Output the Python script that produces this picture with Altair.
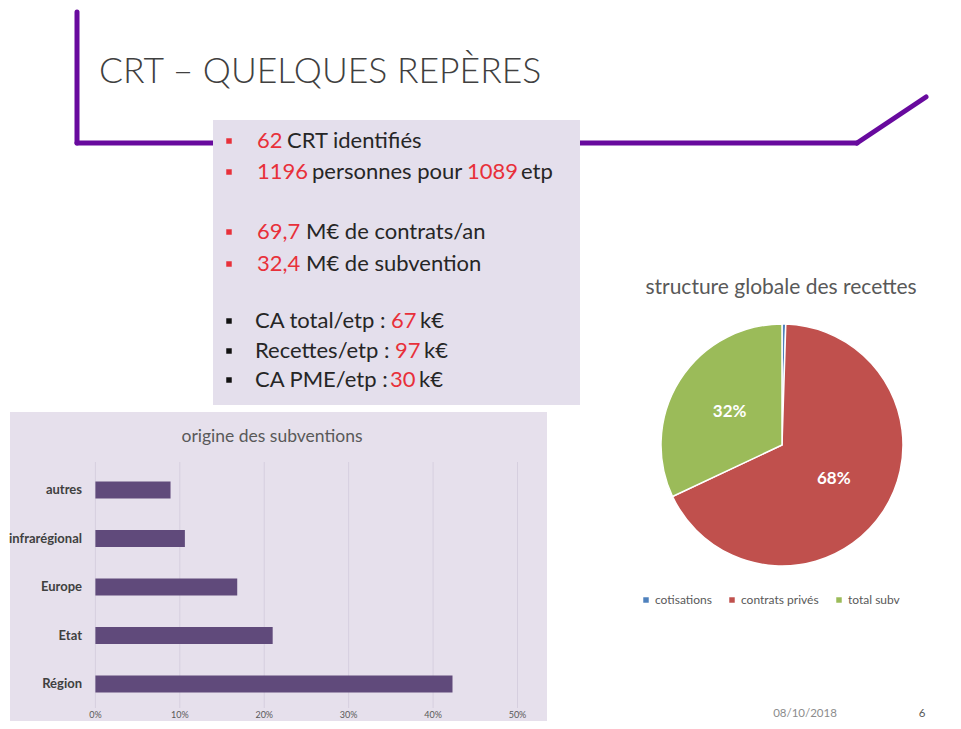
import altair as alt
import pandas as pd

# ---------------- data ----------------
bar_categories = ["autres", "infrarégional", "Europe", "Etat", "Région"]
bar_values = [0.089, 0.106, 0.168, 0.210, 0.423]
bar_ticks = [0.0, 0.1, 0.2, 0.3, 0.4, 0.5]

pie_categories = ["cotisations", "contrats privés", "total subv"]
pie_values = [0.5, 67.5, 32.0]
pie_colors = ["#4F81BD", "#C0504D", "#9BBB59"]

title_text = "CRT – QUELQUES REPÈRES"
bar_title = "origine des subventions"
pie_title = "structure globale des recettes"
date_text = "08/10/2018"
page_number = "6"

# key figures: each line is a list of (text, highlighted)
fact_lines = [
    [("62", True), ("CRT identifiés", False)],
    [("1196", True), ("personnes pour", False), ("1089", True), ("etp", False)],
    [("69,7", True), ("M€ de contrats/an", False)],
    [("32,4", True), ("M€ de subvention", False)],
    [("CA total/etp :", False), ("67", True), ("k€", False)],
    [("Recettes/etp :", False), ("97", True), ("k€", False)],
    [("CA PME/etp :", False), ("30", True), ("k€", False)],
]
fact_bullet_red = [True, True, True, True, False, False, False]

# ---------------- layout (pixels in the page) ----------------
FONT = "Lato"
RED = "#E8303A"
DARK = "#262626"
GREY = "#595959"
PURPLE = "#680A9E"


def px(v):
    return v - 8


line_y = [141, 172, 232, 264, 321, 351, 380]
seg_x = [[257, 287], [257, 312, 467, 521], [257, 306], [257, 306],
         [255, 391, 420], [255, 395, 424], [255, 390, 419]]

one = pd.DataFrame({"k": [0]})


def rule(x1, y1, x2, y2, color, w):
    return alt.Chart(one).mark_rule(color=color, strokeWidth=w, strokeCap="round").encode(
        x=alt.value(px(x1)), y=alt.value(px(y1)), x2=alt.value(px(x2)), y2=alt.value(px(y2)))


def rect(x1, y1, x2, y2, color):
    return alt.Chart(one).mark_rect(color=color).encode(
        x=alt.value(px(x1)), y=alt.value(px(y1)), x2=alt.value(px(x2)), y2=alt.value(px(y2)))


def text(s, x, y, size, color, align="left", weight="normal"):
    return alt.Chart(one).mark_text(text=s, align=align, baseline="middle", font=FONT,
                                    fontSize=size, color=color, fontWeight=weight).encode(
        x=alt.value(px(x)), y=alt.value(px(y)))


layers = []
# purple frame
layers.append(rule(77, 12, 77, 143, PURPLE, 5))
layers.append(rule(77, 143, 857, 143, PURPLE, 5))
layers.append(rule(857, 143, 926, 97, PURPLE, 5))
# title
layers.append(text(title_text, 99, 72, 35.5, "#404040", weight=300))

# key figures box
layers.append(rect(213, 120, 580, 405, "#E4DFEC"))
for i, segs in enumerate(fact_lines):
    layers.append(alt.Chart(one).mark_square(size=30, color=RED if fact_bullet_red[i] else "#111111", opacity=1).encode(
        x=alt.value(px(229)), y=alt.value(px(line_y[i]))))
    for (s, hl), x in zip(segs, seg_x[i]):
        layers.append(text(s, x, line_y[i], 22, RED if hl else DARK))

# bar chart panel
layers.append(rect(10, 412, 547, 740, "#E6E0EC"))
layers.append(text(bar_title, 272, 437, 17.5, GREY, align="center"))

bar_df = pd.DataFrame({"cat": bar_categories, "val": bar_values})
tick_df = pd.DataFrame({"tick": bar_ticks})
xscale = alt.Scale(domain=[0, 0.5], range=[px(95.4), px(517.5)], nice=False, zero=True)
yscale = alt.Scale(domain=bar_categories, range=[px(465.75), px(708.25)],
                   paddingInner=0.65, paddingOuter=0.325)

layers.append(alt.Chart(tick_df).mark_rule(color="#D6CFDF", strokeWidth=1).encode(
    x=alt.X("tick:Q", scale=xscale, axis=None), y=alt.value(px(462)), y2=alt.value(px(708))))
layers.append(alt.Chart(bar_df).mark_bar(color="#604A7B").encode(
    x=alt.X("val:Q", scale=xscale, axis=None), y=alt.Y("cat:N", scale=yscale, axis=None)))
layers.append(alt.Chart(bar_df).mark_text(align="right", baseline="middle", font=FONT, fontSize=13,
                                          fontWeight="bold", color="#404040").encode(
    y=alt.Y("cat:N", scale=yscale, axis=None), x=alt.value(px(82)), text="cat:N"))
layers.append(alt.Chart(tick_df).mark_text(align="center", baseline="middle", font=FONT, fontSize=9,
                                           color=GREY).encode(
    x=alt.X("tick:Q", scale=xscale, axis=None), y=alt.value(px(715)),
    text=alt.Text("tick:Q", format=".0%")))

# pie chart
total = sum(pie_values)
pie_df = pd.DataFrame({
    "cat": pie_categories,
    "share": pie_values,
    "idx": list(range(len(pie_categories))),
    "label": [f"{round(v / total * 100)}%" if v / total >= 0.05 else "" for v in pie_values],
})
layers.append(text(pie_title, 781, 288, 21, GREY, align="center"))
layers.append(alt.Chart(pie_df).mark_arc(stroke="white", strokeWidth=1.5).encode(
    theta=alt.Theta("share:Q", stack=True),
    order=alt.Order("idx:Q"),
    color=alt.Color("cat:N", scale=alt.Scale(domain=pie_categories, range=pie_colors),
                    legend=alt.Legend(orient="none", legendX=px(640), legendY=px(594),
                                      direction="horizontal", title=None, symbolType="square",
                                      symbolSize=30, symbolStrokeWidth=0, labelFont=FONT,
                                      labelFontSize=12, labelColor=GREY, columnPadding=14,
                                      labelOffset=3)),
    x=alt.value(px(782)), y=alt.value(px(445)), radius=alt.value(121)))
layers.append(alt.Chart(pie_df).mark_text(font=FONT, fontSize=17, fontWeight="bold", color="white").encode(
    theta=alt.Theta("share:Q", stack=True),
    order=alt.Order("idx:Q"),
    text="label:N",
    x=alt.value(px(782)), y=alt.value(px(445)), radius=alt.value(62)))

# footer
layers.append(text(date_text, 805, 714, 11.5, "#8C8C8C", align="center"))
layers.append(text(page_number, 922, 714, 11.5, GREY, align="center"))

chart = alt.layer(*layers).properties(
    width=945, height=713, padding=0,
    autosize=alt.AutoSizeParams(type="none"),
    background="white",
).configure_view(stroke=None)

chart.save("out.html", embed_options={"renderer": "svg", "actions": False})
